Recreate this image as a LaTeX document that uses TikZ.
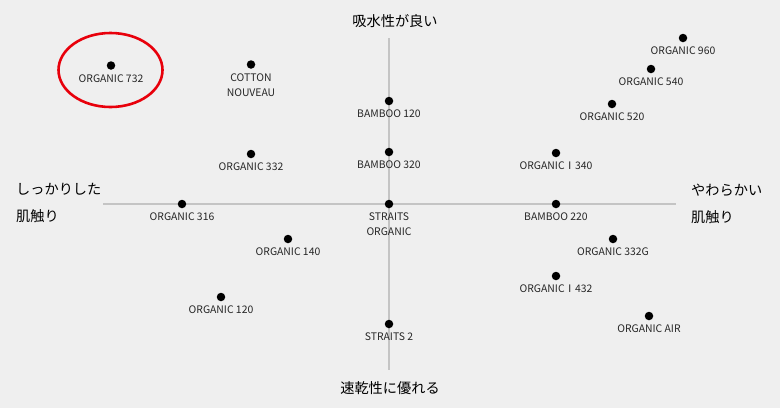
\documentclass[tikz,border=0pt]{standalone}
\usepackage{fontspec}
\usetikzlibrary{shapes.geometric}
\setmainfont{Noto Sans CJK JP}
\definecolor{bg}{HTML}{EFEFEF}
\definecolor{axisc}{HTML}{C4C4C4}
\definecolor{ringc}{HTML}{E8000B}
\begin{document}
\begin{tikzpicture}[x=1pt,y=-1pt,
  dot/.style={circle,fill=black,inner sep=0pt,minimum size=8.5pt},
  lbl/.style={font=\fontsize{10.4}{15}\selectfont,align=center,text=black!85,inner sep=0pt,anchor=north},
  axlbl/.style={font=\fontsize{14.2}{27.5}\selectfont,inner sep=0pt},
  axisline/.style={draw=axisc,line width=1.4pt}]
\fill[bg] (0,0) rectangle (780,408);
\useasboundingbox (0,0) rectangle (780,408);
% axes
\coordinate (hl) at (103,204);
\coordinate (hr) at (676,204);
\coordinate (vt) at (389,38);
\coordinate (vb) at (389,370);
\draw[axisline] (hl) -- (hr);
\draw[axisline] (vt) -- (vb);
% axis labels
\node[axlbl] (top) at (395,21.5) {吸水性が良い};
\node[axlbl] (bot) at (390,388.5) {速乾性に優れる};
\node[axlbl,align=left,anchor=west] (left) at (16,203) {しっかりした\\肌触り};
\node[axlbl,align=left,anchor=west] (right) at (691,204) {やわらかい\\肌触り};
% points
\newcommand\mypt[4]{\node[dot] (#1) at (#2,#3) {};\node[lbl] (#1l) at ([yshift=-8.8pt]#1.center) {#4};}
\mypt{o732}{111}{65.5}{ORGANIC 732}
\mypt{cn}{251}{64.5}{COTTON\\NOUVEAU}
\mypt{b120}{389}{101}{BAMBOO 120}
\mypt{o332}{251}{154}{ORGANIC 332}
\mypt{b320}{389}{152}{BAMBOO 320}
\mypt{o316}{182}{204}{ORGANIC 316}
\mypt{so}{389}{204}{STRAITS\\ORGANIC}
\mypt{o140}{288}{239}{ORGANIC 140}
\mypt{o120}{221}{297}{ORGANIC 120}
\mypt{s2}{389}{324}{STRAITS 2}
\mypt{o960}{683}{38}{ORGANIC 960}
\mypt{o540}{651}{69}{ORGANIC 540}
\mypt{o520}{612}{104}{ORGANIC 520}
\mypt{oi340}{556}{153}{ORGANICⅠ340}
\mypt{b220}{556}{204}{BAMBOO 220}
\mypt{o332g}{613}{239}{ORGANIC 332G}
\mypt{oi432}{556}{276}{ORGANICⅠ432}
\mypt{oair}{649}{316}{ORGANIC AIR}
% highlight
\node[draw=ringc,line width=2.6pt,ellipse,minimum width=104pt,minimum height=74pt,inner sep=0pt] (ring) at (110.5,70) {};
\end{tikzpicture}
\end{document}
